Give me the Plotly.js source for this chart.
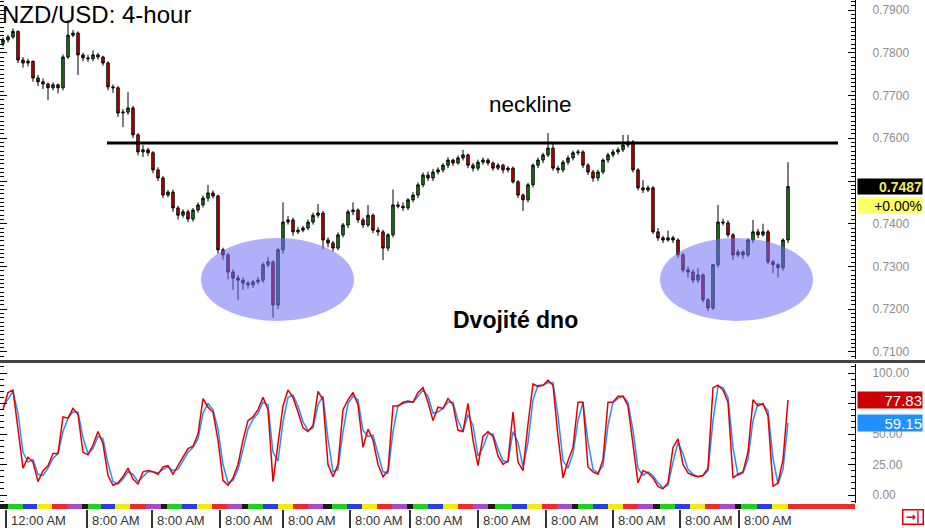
<!DOCTYPE html>
<html><head><meta charset="utf-8">
<script src="https://cdn.plot.ly/plotly-3.0.1.min.js"></script>
<style>html,body{margin:0;padding:0;background:#fff}#chart{width:925px;height:528px}</style>
</head><body><div id="chart"></div>
<script>
// ---- price data (4-hour candles) ----
const openPrice = [
.7822,.7830,.7837,.7850,.7783,.7776,.7780,.7741,.7732,.7727,
.7718,.7725,.7718,.7790,.7841,.7846,.7795,.7788,.7786,.7795,
.7790,.7776,.7720,.7718,.7659,.7661,.7671,.7608,.7568,.7573,
.7566,.7526,.7507,.7467,.7474,.7437,.7420,.7428,.7411,.7432,
.7444,.7460,.7472,.7465,.7339,.7327,.7287,.7273,.7268,.7261,
.7257,.7264,.7268,.7304,.7311,.7210,.7339,.7404,.7409,.7381,
.7385,.7390,.7404,.7420,.7425,.7362,.7355,.7343,.7374,.7397,
.7428,.7432,.7409,.7397,.7420,.7385,.7381,.7343,.7374,.7444,
.7441,.7437,.7456,.7467,.7491,.7514,.7507,.7521,.7526,.7537,
.7549,.7542,.7554,.7561,.7537,.7530,.7544,.7549,.7542,.7530,
.7537,.7526,.7530,.7498,.7467,.7456,.7491,.7537,.7549,.7561,
.7577,.7530,.7526,.7544,.7554,.7566,.7568,.7537,.7521,.7507,
.7521,.7549,.7561,.7568,.7573,.7584,.7591,.7526,.7484,.7479,
.7484,.7381,.7367,.7362,.7367,.7362,.7327,.7292,.7287,.7268,
.7280,.7222,.7203,.7304,.7404,.7402,.7374,.7327,.7334,.7327,
.7362,.7381,.7374,.7381,.7311,.7304,.7297,.7362];
const highPrice = [
.7836,.7842,.7857,.7852,.7790,.7786,.7782,.7748,.7740,.7730,
.7731,.7728,.7796,.7877,.7853,.7850,.7800,.7795,.7806,.7800,
.7793,.7780,.7726,.7722,.7668,.7708,.7676,.7612,.7584,.7578,
.7570,.7532,.7512,.7479,.7480,.7442,.7434,.7433,.7437,.7450,
.7466,.7491,.7478,.7468,.7344,.7332,.7293,.7280,.7274,.7266,
.7268,.7275,.7310,.7322,.7314,.7343,.7450,.7418,.7414,.7392,
.7395,.7410,.7426,.7446,.7430,.7368,.7360,.7380,.7402,.7433,
.7450,.7436,.7414,.7444,.7424,.7392,.7386,.7378,.7480,.7452,
.7450,.7460,.7474,.7497,.7520,.7522,.7528,.7532,.7542,.7556,
.7552,.7560,.7573,.7564,.7542,.7550,.7555,.7553,.7546,.7542,
.7540,.7535,.7534,.7502,.7471,.7496,.7541,.7555,.7566,.7612,
.7590,.7536,.7549,.7560,.7571,.7574,.7572,.7542,.7526,.7526,
.7553,.7566,.7574,.7579,.7608,.7608,.7596,.7530,.7502,.7490,
.7488,.7390,.7372,.7384,.7372,.7366,.7332,.7300,.7293,.7296,
.7284,.7226,.7306,.7444,.7412,.7408,.7378,.7340,.7338,.7366,
.7409,.7388,.7400,.7386,.7315,.7308,.7366,.7544];
const lowPrice = [
.7815,.7824,.7832,.7776,.7765,.7768,.7732,.7722,.7715,.7689,
.7712,.7705,.7712,.7785,.7836,.7748,.7780,.7778,.7780,.7784,
.7770,.7712,.7706,.7650,.7626,.7655,.7600,.7560,.7556,.7558,
.7518,.7500,.7460,.7462,.7428,.7410,.7414,.7404,.7405,.7426,
.7438,.7452,.7459,.7330,.7316,.7270,.7245,.7222,.7245,.7248,
.7250,.7258,.7262,.7298,.7180,.7200,.7330,.7398,.7372,.7376,
.7380,.7385,.7398,.7414,.7340,.7345,.7335,.7338,.7368,.7390,
.7420,.7402,.7390,.7392,.7378,.7372,.7315,.7336,.7368,.7436,
.7430,.7432,.7450,.7460,.7485,.7500,.7500,.7515,.7520,.7530,
.7535,.7538,.7548,.7530,.7522,.7524,.7538,.7536,.7524,.7525,
.7518,.7520,.7494,.7460,.7430,.7450,.7485,.7530,.7542,.7556,
.7524,.7518,.7520,.7538,.7548,.7560,.7530,.7514,.7498,.7500,
.7516,.7542,.7555,.7562,.7568,.7578,.7520,.7478,.7472,.7474,
.7376,.7360,.7355,.7358,.7355,.7320,.7286,.7274,.7262,.7262,
.7216,.7196,.7198,.7298,.7396,.7368,.7315,.7322,.7318,.7322,
.7355,.7366,.7370,.7305,.7284,.7274,.7290,.7355];
const closePrice = [
.7830,.7837,.7850,.7783,.7776,.7780,.7741,.7732,.7727,.7718,
.7725,.7718,.7790,.7841,.7846,.7795,.7788,.7786,.7795,.7790,
.7776,.7720,.7718,.7659,.7661,.7671,.7608,.7568,.7573,.7566,
.7526,.7507,.7467,.7474,.7437,.7420,.7428,.7411,.7432,.7444,
.7460,.7472,.7465,.7339,.7327,.7287,.7273,.7268,.7261,.7257,
.7264,.7268,.7304,.7311,.7210,.7339,.7404,.7409,.7381,.7385,
.7390,.7404,.7420,.7425,.7362,.7355,.7343,.7374,.7397,.7428,
.7432,.7409,.7397,.7420,.7385,.7381,.7343,.7374,.7444,.7441,
.7437,.7456,.7467,.7491,.7514,.7507,.7521,.7526,.7537,.7549,
.7542,.7554,.7561,.7537,.7530,.7544,.7549,.7542,.7530,.7537,
.7526,.7530,.7498,.7467,.7456,.7491,.7537,.7549,.7561,.7577,
.7530,.7526,.7544,.7554,.7566,.7568,.7537,.7521,.7507,.7521,
.7549,.7561,.7568,.7573,.7584,.7591,.7526,.7484,.7479,.7484,
.7381,.7367,.7362,.7367,.7362,.7327,.7292,.7287,.7268,.7280,
.7222,.7203,.7304,.7404,.7402,.7374,.7327,.7334,.7327,.7362,
.7381,.7374,.7381,.7311,.7304,.7297,.7362,.7487];

// ---- stochastic oscillator (%K red, %D blue) ----
const stochK = [
70,84,86,55,22,31,27,11,20,24,
34,34,64,63,71,66,35,33,41,52,
42,16,8,10,15,22,13,9,19,20,
19,17,23,24,17,24,31,38,40,50,
79,72,68,45,12,8,14,25,45,61,
64,70,80,70,11,40,73,86,80,68,
55,52,57,85,78,25,15,25,70,78,
84,74,39,54,45,25,15,20,73,73,
76,77,76,84,88,76,61,72,71,79,
74,53,52,75,45,24,48,52,48,32,
25,28,68,27,20,58,91,89,90,94,
90,48,14,28,39,76,76,23,19,17,
29,76,76,81,81,73,39,10,20,18,
14,7,5,10,39,46,25,18,16,15,
16,22,88,90,86,76,14,17,19,35,
78,73,75,65,7,10,29,77.83];
const stochD = [
72,78,85,67,35,27,29,17,16,22,
30,34,52,63,68,68,47,34,38,48,
46,26,11,9,13,19,17,11,15,19,
19,18,21,23,20,21,28,35,39,46,
67,75,70,54,25,10,12,21,37,54,
62,67,76,74,35,28,60,80,82,73,
60,53,55,74,81,46,19,21,52,75,
81,78,53,48,49,33,19,18,52,73,
75,76,76,81,86,81,67,68,71,76,
76,61,52,66,57,32,39,50,50,38,
28,27,52,43,23,43,78,90,90,92,
92,65,28,22,34,61,76,44,21,18,
24,57,76,79,81,76,53,22,16,19,
16,10,6,8,27,43,34,21,17,15,
16,20,61,89,88,80,39,16,18,29,
61,75,74,69,30,9,21,59.15];

// ---- time axis ----
const tickVals = [0.6,16.8,29.8,43.4,56,69.4,81.4,95,108.6,122,135.4,147.2];
const tickLabels = ['12:00 AM','8:00 AM','8:00 AM','8:00 AM','8:00 AM','8:00 AM','8:00 AM','8:00 AM','8:00 AM','8:00 AM','8:00 AM','8:00 AM'];

// ---- price / oscillator axis labels (0.7500 and 75.00 sit under the value boxes) ----
const priceTicks = [0.71,0.72,0.73,0.74,0.75,0.76,0.77,0.78,0.79];
const priceTickText = ['0.7100','0.7200','0.7300','0.7400','','0.7600','0.7700','0.7800','0.7900'];
const stochTicks = [0,25,50,75,100];
const stochTickText = ['0.00','25.00','50.00','','100.00'];

// ---- session colour strip (edges in candle-index units) ----
const stripEdges = [-0.6,1,4,6.8,9.8,12.8,15.8,17,19.6,22.4,25.4,28.6,31.6,32.8,35.8,38.8,41.8,44.8,47.8,49,52,55,58,61,64,65.8,68.8,71.8,74.8,77.8,80.8,82,85,88,91,94,97,98.4,101.8,104.8,107.8,110.8,113.8,115,118,121,124,127,130,131.4,134.4,137.4,140.4,143.4,146.4,147.6,150.8,153.8,157,170.4];
const stripCodes = 'KGBYRPKGBYRPKGBYRPKGBYRPKGBYRPKGBYRPKGBYRPKGBYRPKGBYRPKGBYR';
const stripPalette = {K:'#1a1a1a',G:'#22d022',B:'#2a3ce8',Y:'#f2ea10',R:'#ee2a2a',P:'#a54ac8'};

// ---- annotations in data units ----
const necklinePrice = 0.7589, necklineFrom = 20.8, necklineTo = 167;
const bottomZones = [{from:39.6,to:70.2,lo:0.71725,hi:0.73667},{from:131.4,to:162,lo:0.71725,hi:0.73667}];

const idx = closePrice.map((_, i) => i);
const sc = [], sw = [], scol = [], sy = [];
for (let i = 0; i < stripEdges.length - 1; i++) {
  sc.push((stripEdges[i] + stripEdges[i+1]) / 2);
  sw.push(stripEdges[i+1] - stripEdges[i]);
  scol.push(stripPalette[stripCodes[i]]);
  sy.push(1);
}
const FONT = 'Liberation Sans, Arial, sans-serif';
const lastClose = closePrice[closePrice.length-1];
const lastK = stochK[stochK.length-1], lastD = stochD[stochD.length-1];

const traces = [
  {type:'candlestick', x:idx, open:openPrice, high:highPrice, low:lowPrice, close:closePrice,
   xaxis:'x', yaxis:'y', whiskerwidth:0, hoverinfo:'skip',
   increasing:{line:{color:'#000',width:1}, fillcolor:'#1c8c1c'},
   decreasing:{line:{color:'#000',width:1}, fillcolor:'#e00000'}},
  {type:'scatter', mode:'lines', x:idx, y:stochD, xaxis:'x', yaxis:'y2', line:{color:'#2a8cff',width:1.5}, hoverinfo:'skip'},
  {type:'scatter', mode:'lines', x:idx, y:stochK, xaxis:'x', yaxis:'y2', line:{color:'#e00000',width:1.5}, hoverinfo:'skip'},
  {type:'bar', x:sc, y:sy, width:sw, xaxis:'x', yaxis:'y3', marker:{color:scol, line:{width:0}}, hoverinfo:'skip'}
];

const shapes = [
  {type:'line', xref:'paper', yref:'paper', x0:0, x1:925/855, y0:1-361.5/528, y1:1-361.5/528, line:{color:'#444',width:3}},
  {type:'line', xref:'x', yref:'y', x0:necklineFrom, x1:necklineTo, y0:necklinePrice, y1:necklinePrice, line:{color:'#000',width:3}, layer:'above'}
];
bottomZones.forEach(z => shapes.push({type:'circle', xref:'x', yref:'y', x0:z.from, x1:z.to, y0:z.lo, y1:z.hi,
  fillcolor:'rgba(110,110,245,0.55)', line:{width:0}, layer:'above'}));

const annotations = [
  {xref:'x', yref:'y', x:105.4, y:0.7678, text:'neckline', showarrow:false, font:{family:FONT,size:22.5,color:'#000'}},
  {xref:'x', yref:'y', x:102.4, y:0.7175, text:'<b>Dvojité dno</b>', showarrow:false, font:{family:FONT,size:23,color:'#000'}},
  {xref:'paper', yref:'y', x:1, xanchor:'left', xshift:2, y:lastClose, text:'<b>'+lastClose.toFixed(4)+'</b>', showarrow:false,
   bgcolor:'#000', width:64, height:15, align:'right', borderpad:0, font:{family:FONT,size:14,color:'#f0ec50'}},
  {xref:'paper', yref:'y', x:1, xanchor:'left', xshift:2, y:lastClose, yshift:-19, text:'+0.00%', showarrow:false,
   bgcolor:'#ffff66', width:64, height:15, align:'right', borderpad:0, font:{family:FONT,size:14,color:'#000'}},
  {xref:'paper', yref:'y2', x:1, xanchor:'left', xshift:2, y:lastK, text:lastK.toFixed(2), showarrow:false,
   bgcolor:'#cc0000', width:64, height:16, align:'right', borderpad:0, font:{family:FONT,size:15,color:'#fff'}},
  {xref:'paper', yref:'y2', x:1, xanchor:'left', xshift:2, y:lastD, text:lastD.toFixed(2), showarrow:false,
   bgcolor:'#1e90ff', width:64, height:16, align:'right', borderpad:0, font:{family:FONT,size:15,color:'#fff'}},
  {xref:'paper', yref:'paper', x:925/855, xanchor:'right', xshift:-1, y:3/528, yanchor:'bottom', text:'<b>→|</b>', showarrow:false,
   bordercolor:'#e00000', borderwidth:1.5, width:19, height:13, borderpad:0, bgcolor:'#fff',
   font:{family:'DejaVu Sans, sans-serif',size:12,color:'#e00000'}}
];
tickVals.forEach((v, i) => annotations.push({xref:'x', yref:'paper', x:v, xanchor:'left', xshift:3, y:8/528, yanchor:'middle',
  text:tickLabels[i], showarrow:false, font:{family:FONT,size:13,color:'#333'}}));

const tickFont = {family:FONT, size:12, color:'#8c8c8c'};
const layout = {
  width:925, height:528, margin:{l:0,r:70,t:0,b:0}, paper_bgcolor:'#fff', plot_bgcolor:'#fff', showlegend:false,
  title:{text:'NZD/USD: 4-hour', x:2/925, xanchor:'left', y:1-15/528, yanchor:'middle', font:{family:FONT,size:24,color:'#000'}},
  xaxis:{range:[-0.6,170.4], anchor:'y3', rangeslider:{visible:false}, showgrid:false, zeroline:false, showline:false,
    tickmode:'array', tickvals:tickVals, ticks:'outside', ticklen:18, tickwidth:1.5, tickcolor:'#333', showticklabels:false, fixedrange:true},
  yaxis:{domain:[1-359/528,1], range:[0.70836,0.79234], side:'right', anchor:'x', tickmode:'array', tickvals:priceTicks, ticktext:priceTickText,
    ticks:'inside', ticklen:7, tickcolor:'#000', showline:true, linecolor:'#000', linewidth:1, mirror:'ticks',
    showgrid:false, zeroline:false, minor:{tickmode:'linear', tick0:0.70, dtick:0.001, ticks:'inside', ticklen:4, tickcolor:'#000', showgrid:false},
    tickfont:tickFont, ticklabelstandoff:14, fixedrange:true},
  yaxis2:{domain:[25/528,164/528], range:[-6.56,107.38], side:'right', anchor:'x', tickmode:'array', tickvals:stochTicks, ticktext:stochTickText,
    ticks:'inside', ticklen:7, tickcolor:'#000', showline:true, linecolor:'#000', linewidth:1, mirror:'ticks',
    showgrid:false, zeroline:false, minor:{tickmode:'linear', tick0:0, dtick:5, ticks:'inside', ticklen:4, tickcolor:'#000', showgrid:false},
    tickfont:tickFont, ticklabelstandoff:14, fixedrange:true},
  yaxis3:{domain:[19/528,24/528], range:[0,1], anchor:'x', visible:false, fixedrange:true},
  bargap:0, shapes:shapes, annotations:annotations
};
Plotly.newPlot('chart', traces, layout, {displayModeBar:false, staticPlot:true});
</script></body></html>
